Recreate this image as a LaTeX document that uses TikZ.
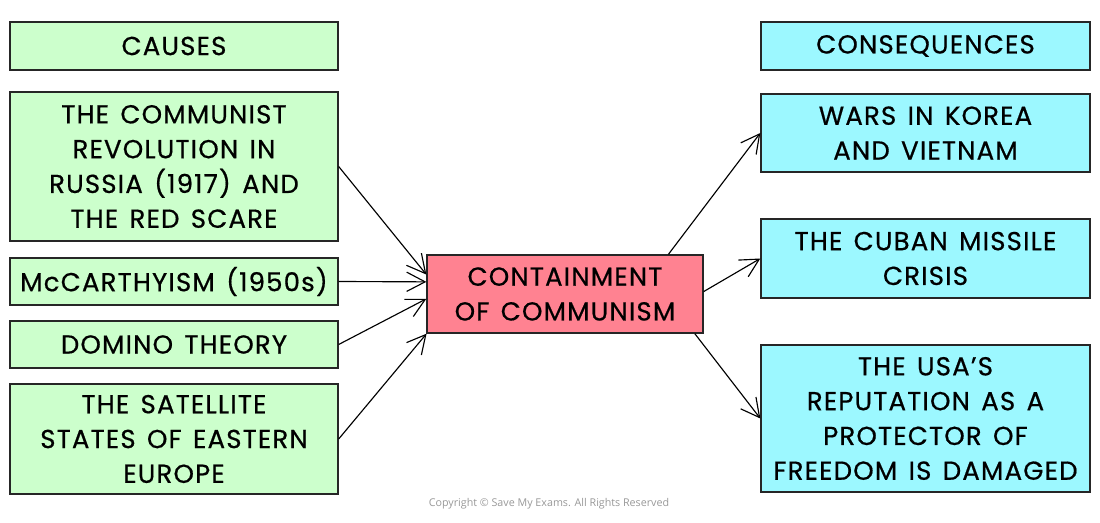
\documentclass[tikz,border=0pt]{standalone}
\usepackage{fontspec}
\setmainfont{Poppins}[LetterSpace=4.5, WordSpace=1.4, FakeBold=0.6]
\newfontfamily\notefont{Open Sans}
\usetikzlibrary{arrows.meta,calc}

\definecolor{causegreen}{HTML}{CCFFCC}
\definecolor{conseqcyan}{HTML}{9CF8FF}
\definecolor{centrered}{HTML}{FF8291}

\tikzset{
    box/.style={draw=black!85, line width=0.8pt, minimum width=6.56cm, align=center,
        font=\fontsize{14.8}{19.8}\selectfont, inner sep=2pt},
    causebox/.style={box, fill=causegreen},
    conseqbox/.style={box, fill=conseqcyan, minimum width=6.58cm},
    link/.style={line width=0.65pt, -{Straight Barb[length=10.5pt,width=11pt,line width=0.65pt]}}
}

\begin{document}
\begin{tikzpicture}[x=0.02cm,y=-0.02cm]
        \useasboundingbox[fill=white] (0,0) rectangle (1100,523);

        % Causes column
        \node[causebox, minimum height=0.96cm] (causes) at (174,46) {CAUSES};
        \node[causebox, minimum height=2.98cm] (revolution) at (174,166.5)
            {THE COMMUNIST\\REVOLUTION IN\\RUSSIA (1917) AND\\THE RED SCARE};
        \node[causebox, minimum height=0.94cm] (mccarthy) at (174,281.5) {McCARTHYISM (1950s)};
        \node[causebox, minimum height=0.94cm] (domino) at (174,344.5) {DOMINO THEORY};
        \node[causebox, minimum height=2.2cm] (satellite) at (174,439)
            {THE SATELLITE\\STATES OF EASTERN\\EUROPE};

        % Centre
        \node[box, fill=centrered, minimum width=5.52cm, minimum height=1.56cm] (containment) at (565,294)
            {CONTAINMENT\\OF COMMUNISM};

        % Consequences column
        \node[conseqbox, minimum height=0.96cm] (consequences) at (925.5,46) {CONSEQUENCES};
        \node[conseqbox, minimum height=1.56cm] (wars) at (925.5,133) {WARS IN KOREA\\AND VIETNAM};
        \node[conseqbox, minimum height=1.58cm] (cuba) at (925.5,258.5) {THE CUBAN MISSILE\\CRISIS};
        \node[conseqbox, minimum height=2.94cm] (reputation) at (925.5,418.5)
            {THE USA’S\\REPUTATION AS A\\PROTECTOR OF\\FREEDOM IS DAMAGED};

        % Arrows into the centre
        \draw[link] (revolution.east) -- (containment.172);
        \draw[link] (mccarthy.east) -- (containment.175);
        \draw[link] (domino.east) -- (containment.182.5);
        \draw[link] (satellite.east) -- (containment.196.7);

        % Arrows out of the centre
        \draw[link] (containment.21.7) -- (wars.west);
        \draw[link] (containment.1.7) -- (cuba.west);
        \draw[link] (containment.343) -- (reputation.west);

        \node[font=\notefont\fontsize{6.1}{8}\selectfont, text=black!40] (copyright) at (549,504)
            {Copyright © Save My Exams. All Rights Reserved};
\end{tikzpicture}
\end{document}
